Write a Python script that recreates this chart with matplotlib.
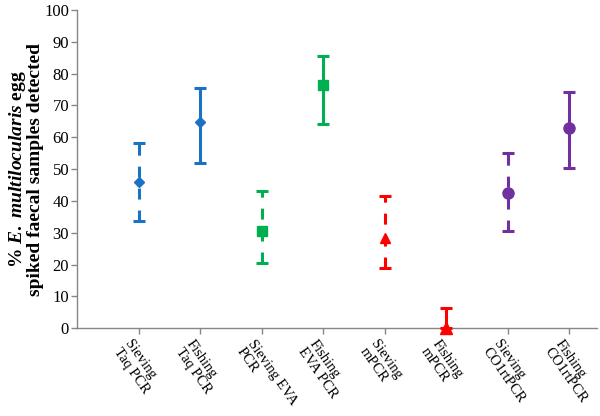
import matplotlib
matplotlib.use("Agg")
import matplotlib.pyplot as plt
from matplotlib.transforms import ScaledTranslation

# ---- data ----
categories = ["Sieving\nTaq PCR", "Fishing\nTaq PCR", "Sieving EVA\nPCR", "Fishing\nEVA PCR",
              "Sieving\nmPCR", "Fishing\nmPCR", "Sieving\nCO1rtPCR", "Fishing\nCO1rtPCR"]
means = [45.9, 64.7, 30.6, 76.5, 28.5, 0.0, 42.6, 62.8]
lower = [33.7, 51.8, 20.4, 64.2, 18.8, 0.0, 30.6, 50.3]
upper = [58.3, 75.6, 43.1, 85.6, 41.6, 6.3, 55.2, 74.1]
yticks = [0, 10, 20, 30, 40, 50, 60, 70, 80, 90, 100]

# ---- styles ----
colors = ["#1B72C2", "#1B72C2", "#00B050", "#00B050", "#FF0000", "#FF0000", "#7030A0", "#7030A0"]
markers = ["D", "D", "s", "s", "^", "^", "o", "o"]
msizes = [5.5, 5.5, 7.5, 7.5, 7.5, 8, 8, 8]
dashed = [True, False, True, False, True, False, True, False]

plt.rcParams["font.family"] = ["Liberation Serif", "DejaVu Serif"]
plt.rcParams["mathtext.fontset"] = "custom"
plt.rcParams["mathtext.it"] = "Liberation Serif:italic:bold"
plt.rcParams["mathtext.rm"] = "Liberation Serif:bold"
plt.rcParams["lines.scale_dashes"] = False

fig = plt.figure(figsize=(6.0, 4.16), dpi=100)
ax = fig.add_axes([0.129, 0.2108, 0.866, 0.7652])

for i in range(len(means)):
    x = i + 1
    m = means[i]
    el = m - lower[i]
    eu = upper[i] - m
    cont = ax.errorbar([x], [m], yerr=[[el], [eu]], fmt=markers[i], color=colors[i],
                       ms=msizes[i], ecolor=colors[i], elinewidth=2.2, capsize=4,
                       capthick=2.2, clip_on=False, zorder=3)
    if dashed[i]:
        for lc in cont[2]:
            lc.set_linestyle((0, (7.9, 7.9)))
    for ln in cont[1]:
        ln.set_clip_on(False)
    for lc in cont[2]:
        lc.set_clip_on(False)

ax.set_xlim(0, 8.45)
ax.set_ylim(0, 100)
ax.set_yticks(yticks)
ax.set_yticklabels([str(v) for v in yticks], fontsize=12)
ax.set_xticks(range(1, len(categories) + 1))
ax.set_xticklabels([""] * len(categories))

# category labels, rotated, anchored just below each tick
offset = ScaledTranslation(-6 / 100, -9 / 100, fig.dpi_scale_trans)
for i, cat in enumerate(categories):
    ax.text(i + 1, 0, cat, transform=ax.get_xaxis_transform() + offset,
            fontsize=10.5, rotation=-55, ha="left", va="top", rotation_mode="anchor",
            multialignment="left", linespacing=1.05, clip_on=False)

for s in ["top", "right"]:
    ax.spines[s].set_visible(False)
for s in ["left", "bottom"]:
    ax.spines[s].set_color("#868686")
    ax.spines[s].set_linewidth(1.0)
ax.tick_params(axis="both", direction="out", length=4, width=1.0, color="#868686",
               labelcolor="black", pad=2)

ax.set_ylabel("% $\\mathit{E.\\ multilocularis}$ egg\nspiked faecal samples detected",
              fontsize=14, fontweight="bold", linespacing=0.95, labelpad=0)

fig.savefig("out.png", dpi=100)
